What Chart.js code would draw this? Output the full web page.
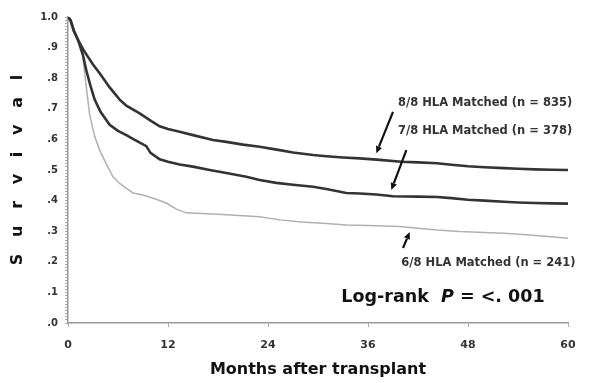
<!DOCTYPE html>
<html>
<head>
<meta charset="utf-8">
<script src="https://cdn.jsdelivr.net/npm/chart.js@4/dist/chart.umd.min.js"></script>
<style>
html,body{margin:0;padding:0;background:#fff;}
canvas{display:block;}
</style>
</head>
<body>
<canvas id="c" width="594" height="383"></canvas>
<script>
// ---- data ----
const xTicks = [0, 12, 24, 36, 48, 60];

const months88 = [0,0.3,0.7,1.2,1.8,2.2,3,3.8,5,6.2,7,8.6,10,11,12,13.4,15,17.4,19,21,23,25.4,27,29.4,31,33,35,37.4,40,42,44.3,46,48,50,52.3,54,56,58,60];
const surv88   = [1,0.99,0.955,0.925,0.895,0.878,0.845,0.816,0.77,0.73,0.71,0.685,0.66,0.643,0.634,0.625,0.614,0.598,0.592,0.583,0.576,0.565,0.557,0.549,0.545,0.541,0.538,0.533,0.527,0.525,0.522,0.517,0.512,0.509,0.506,0.504,0.502,0.501,0.5];

const months78 = [0,0.3,0.7,1.2,1.8,2.2,2.7,3.2,3.9,5,6,7,7.9,9.4,9.9,11,12,13.4,15,17,19,21.4,23,25,27,29.4,31,33.4,35,37,39,42,44.3,46,48,50,52.3,54,56,58,60];
const surv78   = [1,0.99,0.955,0.925,0.875,0.825,0.775,0.73,0.69,0.648,0.628,0.614,0.6,0.578,0.556,0.535,0.527,0.518,0.511,0.5,0.49,0.478,0.467,0.458,0.452,0.445,0.438,0.425,0.423,0.42,0.414,0.413,0.412,0.408,0.403,0.4,0.396,0.394,0.392,0.391,0.39];

const months68 = [0,0.3,0.7,1.2,1.7,2.2,2.6,3.2,3.8,4.5,5.4,6.2,7,7.8,9,10.5,11.8,13,14.2,16,18,20,23,25.4,28,31,33.4,36,39.8,42,44.3,47,50,52.3,55,58,60];
const surv68   = [1,0.99,0.955,0.925,0.89,0.77,0.68,0.61,0.565,0.525,0.478,0.456,0.44,0.425,0.418,0.405,0.392,0.372,0.36,0.358,0.355,0.352,0.347,0.337,0.33,0.325,0.32,0.319,0.315,0.31,0.304,0.299,0.296,0.293,0.288,0.282,0.277];

const seriesLabels = ['8/8 HLA Matched (n = 835)', '7/8 HLA Matched (n = 378)', '6/8 HLA Matched (n = 241)'];

// ---- annotation placement (data units) ----
const labelPos = [
  {x: 39.6, y: 0.719},
  {x: 39.6, y: 0.627},
  {x: 40.0, y: 0.196}
];
const arrows = [
  {x1: 39.0, y1: 0.69,  x2: 37.0, y2: 0.555},
  {x1: 40.6, y1: 0.565, x2: 38.8, y2: 0.435},
  {x1: 40.2, y1: 0.245, x2: 41.0, y2: 0.297}
];
const logRankPos = {x: 32.8, y: 0.082};

function pts(m, s) { return m.map((v, i) => ({x: v, y: s[i]})); }

const annot = {
  id: 'annot',
  afterDatasetsDraw(chart) {
    const ctx = chart.ctx, xs = chart.scales.x, ys = chart.scales.y;
    ctx.save();
    ctx.fillStyle = '#333';
    ctx.font = 'bold 11.5px "DejaVu Sans"';
    ctx.textBaseline = 'middle';
    ctx.textAlign = 'left';
    seriesLabels.forEach((t, i) => {
      ctx.fillText(t, xs.getPixelForValue(labelPos[i].x), ys.getPixelForValue(labelPos[i].y));
    });
    // arrows
    ctx.strokeStyle = '#111';
    ctx.fillStyle = '#111';
    ctx.lineWidth = 2.2;
    arrows.forEach(a => {
      const x1 = xs.getPixelForValue(a.x1), y1 = ys.getPixelForValue(a.y1);
      const x2 = xs.getPixelForValue(a.x2), y2 = ys.getPixelForValue(a.y2);
      const ang = Math.atan2(y2 - y1, x2 - x1);
      const hl = 7, hw = 3.2;
      const bx = x2 - hl * Math.cos(ang), by = y2 - hl * Math.sin(ang);
      ctx.beginPath(); ctx.moveTo(x1, y1); ctx.lineTo(bx, by); ctx.stroke();
      ctx.beginPath();
      ctx.moveTo(x2, y2);
      ctx.lineTo(bx + hw * Math.sin(ang), by - hw * Math.cos(ang));
      ctx.lineTo(bx - hw * Math.sin(ang), by + hw * Math.cos(ang));
      ctx.closePath(); ctx.fill();
    });
    // log-rank text
    let lx = xs.getPixelForValue(logRankPos.x);
    const ly = ys.getPixelForValue(logRankPos.y);
    ctx.fillStyle = '#111';
    const parts = [
      ['Log-rank  ', 'bold 17.5px "DejaVu Sans"'],
      ['P', 'italic bold 17.5px "DejaVu Sans"'],
      [' = <. 001', 'bold 17.5px "DejaVu Sans"']
    ];
    parts.forEach(p => {
      ctx.font = p[1];
      ctx.fillText(p[0], lx, ly);
      lx += ctx.measureText(p[0]).width;
    });
    ctx.restore();
  }
};

new Chart(document.getElementById('c'), {
  type: 'line',
  data: {
    datasets: [
      {label: seriesLabels[0], data: pts(months88, surv88), borderColor: '#333', borderWidth: 2.6, pointRadius: 0, tension: 0},
      {label: seriesLabels[1], data: pts(months78, surv78), borderColor: '#333', borderWidth: 2.6, pointRadius: 0, tension: 0},
      {label: seriesLabels[2], data: pts(months68, surv68), borderColor: '#b0b0b0', borderWidth: 1.5, pointRadius: 0, tension: 0}
    ]
  },
  options: {
    responsive: false,
    animation: false,
    devicePixelRatio: 1,
    layout: {padding: {top: 17, right: 26, left: 0, bottom: 0}},
    plugins: {legend: {display: false}, tooltip: {enabled: false}},
    scales: {
      x: {
        type: 'linear', min: 0, max: 60,
        afterBuildTicks(s) { s.ticks = xTicks.map(v => ({value: v})); },
        afterFit(s) { s.height = 60; },
        ticks: {font: {family: 'DejaVu Sans', size: 11, weight: 'bold'}, color: '#333', padding: 12, maxRotation: 0},
        grid: {drawOnChartArea: false, tickLength: 4, color: '#aaa'},
        border: {color: '#999', width: 1.5},
        title: {display: true, text: 'Months after transplant', font: {family: 'DejaVu Sans', size: 16, weight: 'bold'}, color: '#111', padding: {top: 0, bottom: 4}}
      },
      y: {
        min: 0, max: 1,
        afterFit(s) { s.width = 68; },
        ticks: {
          stepSize: 0.01, autoSkip: false,
          font: {family: 'DejaVu Sans', size: 10, weight: 'bold'}, color: '#333', padding: 7,
          callback(v) {
            const k = Math.round(v * 100);
            if (k % 10 !== 0) return '';
            if (k === 100) return '1.0';
            return '.' + (k / 10);
          }
        },
        grid: {drawOnChartArea: false, tickLength: 3, color: '#aaa'},
        border: {color: '#999', width: 1.5},
        title: {display: true, text: 'S   u   r   v   i   v   a   l', font: {family: 'DejaVu Sans', size: 16, weight: 'bold'}, color: '#111', padding: {top: 8, bottom: 0}}
      }
    }
  },
  plugins: [annot]
});
</script>
</body>
</html>
